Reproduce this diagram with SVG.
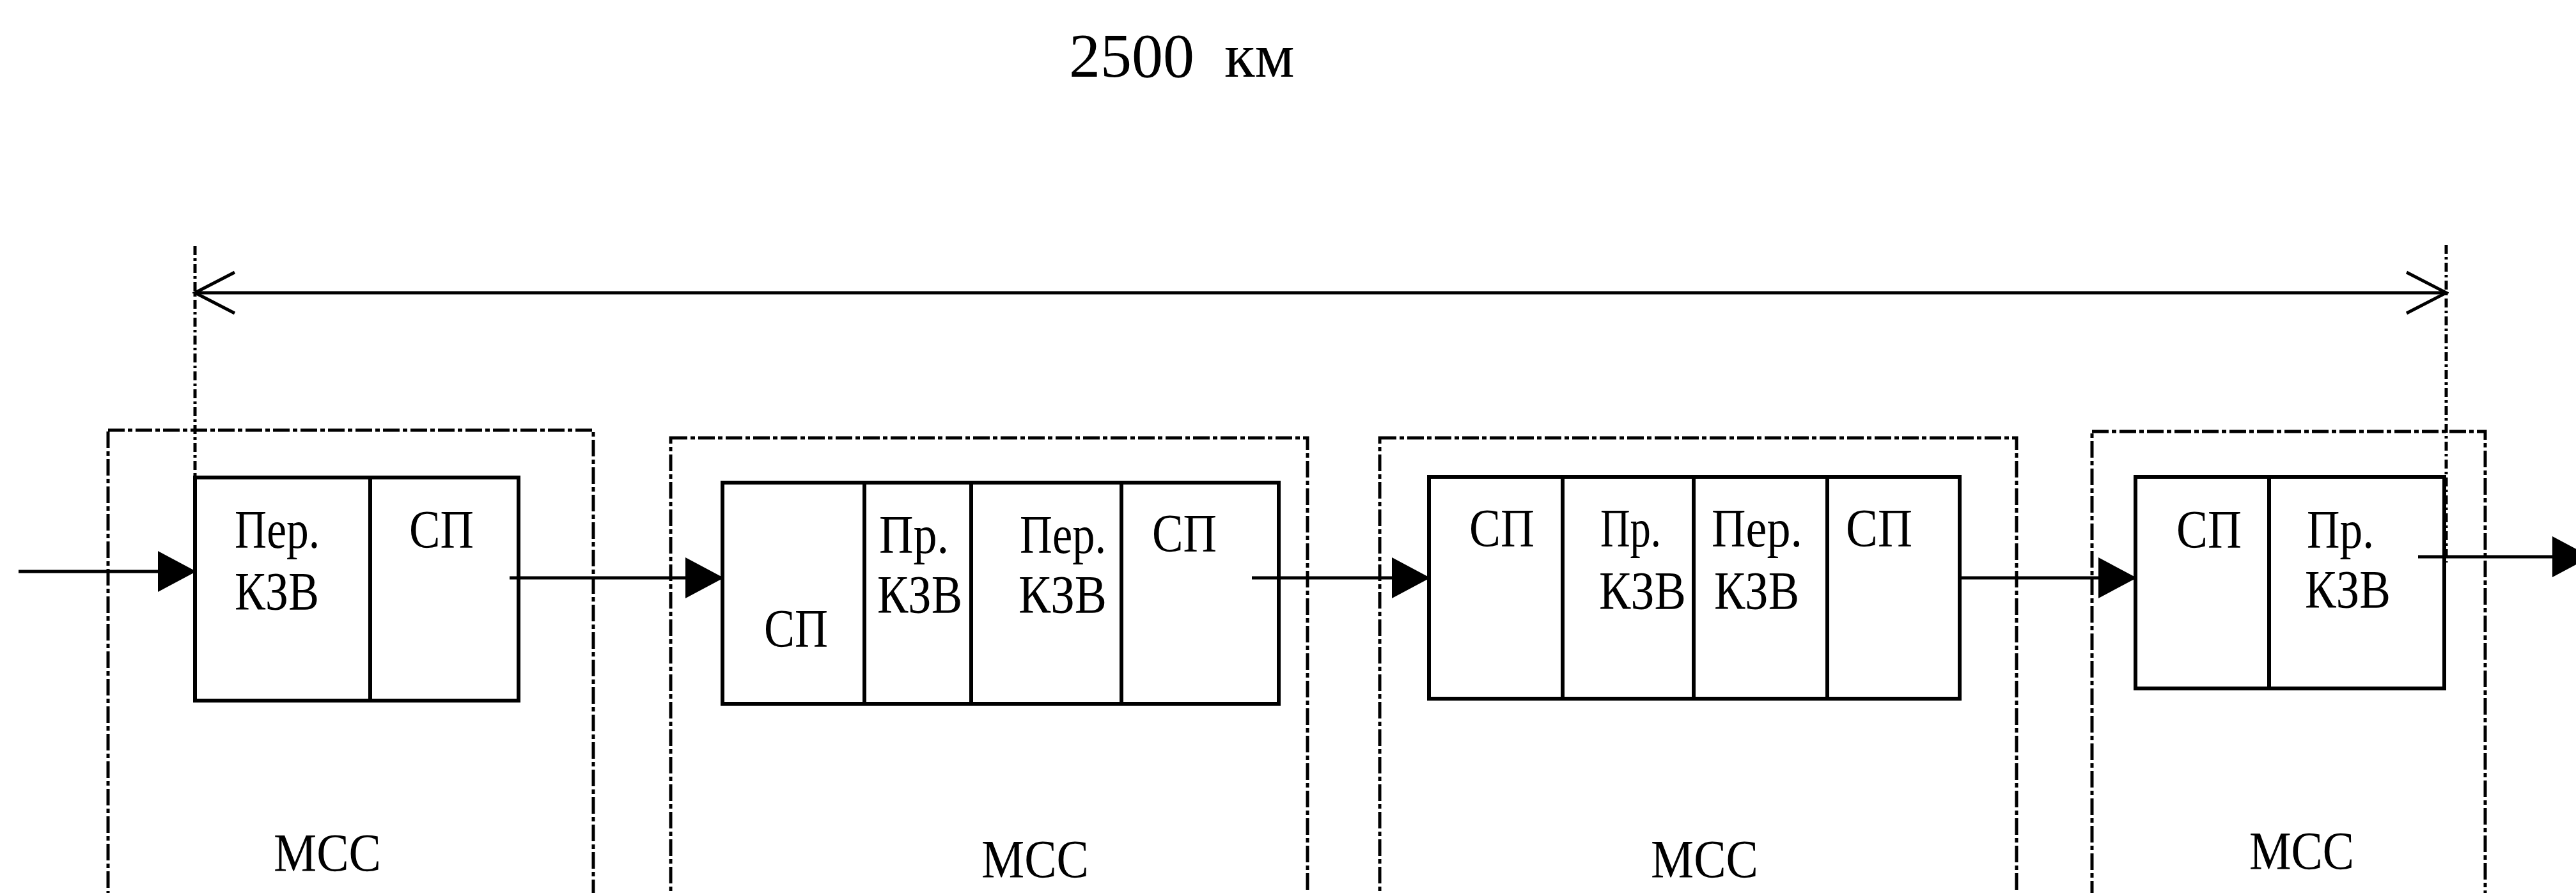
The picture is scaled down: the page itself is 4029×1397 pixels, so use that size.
<svg xmlns="http://www.w3.org/2000/svg" width="4029" height="1397" viewBox="0 0 4029 1397">
<style>
text{font-family:"Liberation Serif","Times New Roman",serif;fill:#000;font-size:84px}
.title{font-size:98px}
.outer{fill:none;stroke:#000;stroke-width:5;stroke-dasharray:26 5 7 5}
.inner{fill:#fff;stroke:#000;stroke-width:6}
.div{stroke:#000;stroke-width:6}
.ext{stroke:#000;stroke-width:5;stroke-dasharray:14 5 4 5}
.dim{stroke:#000;stroke-width:5;fill:none}
.con{stroke:#000;stroke-width:5;fill:none}
</style>
<defs>
<marker id="fa" viewBox="0 0 60 64" markerWidth="60" markerHeight="64" refX="58" refY="32" markerUnits="userSpaceOnUse" orient="auto">
<path d="M0,0 L60,32 L0,64 Z" fill="#000"/>
</marker>
<marker id="oa" viewBox="-4 -4 70 72" markerWidth="70" markerHeight="72" refX="62" refY="32" markerUnits="userSpaceOnUse" orient="auto-start-reverse">
<path d="M0,0 L62,32 L0,64" fill="none" stroke="#000" stroke-width="5"/>
</marker>
</defs>
<rect width="4029" height="1397" fill="#fff"/>

<g id="title">
<text class="title" x="1672" y="120">2500 <tspan x="1915">км</tspan></text>
</g>

<g id="dimension">
<line class="ext" x1="305" y1="385" x2="305" y2="747"/>
<line class="ext" x1="3826" y1="383" x2="3826" y2="880"/>
<line class="dim" x1="305" y1="458" x2="3826" y2="458" marker-start="url(#oa)" marker-end="url(#oa)"/>
</g>

<g id="mss1">
<rect class="outer" x="169" y="673" width="759" height="760"/>
<rect class="inner" x="305" y="747" width="506" height="349"/>
<line class="div" x1="579" y1="747" x2="579" y2="1096"/>
<text x="367" y="857" textLength="133" lengthAdjust="spacingAndGlyphs">Пер.</text>
<text x="367" y="954" textLength="132" lengthAdjust="spacingAndGlyphs">КЗВ</text>
<text x="640" y="857" textLength="101" lengthAdjust="spacingAndGlyphs">СП</text>
<text x="428" y="1363" textLength="168" lengthAdjust="spacingAndGlyphs">МСС</text>
</g>

<g id="mss2">
<rect class="outer" x="1049" y="685" width="996" height="750"/>
<rect class="inner" x="1130" y="755" width="870" height="346"/>
<line class="div" x1="1352" y1="755" x2="1352" y2="1101"/>
<line class="div" x1="1519" y1="755" x2="1519" y2="1101"/>
<line class="div" x1="1754" y1="755" x2="1754" y2="1101"/>
<text x="1195" y="1012" textLength="100" lengthAdjust="spacingAndGlyphs">СП</text>
<text x="1375" y="865" textLength="109" lengthAdjust="spacingAndGlyphs">Пр.</text>
<text x="1372" y="959" textLength="133" lengthAdjust="spacingAndGlyphs">КЗВ</text>
<text x="1595" y="865" textLength="135" lengthAdjust="spacingAndGlyphs">Пер.</text>
<text x="1593" y="959" textLength="138" lengthAdjust="spacingAndGlyphs">КЗВ</text>
<text x="1802" y="863" textLength="101" lengthAdjust="spacingAndGlyphs">СП</text>
<text x="1535" y="1373" textLength="168" lengthAdjust="spacingAndGlyphs">МСС</text>
</g>

<g id="mss3">
<rect class="outer" x="2158" y="685" width="996" height="750"/>
<rect class="inner" x="2235" y="746" width="830" height="347"/>
<line class="div" x1="2444" y1="746" x2="2444" y2="1093"/>
<line class="div" x1="2649" y1="746" x2="2649" y2="1093"/>
<line class="div" x1="2858" y1="746" x2="2858" y2="1093"/>
<text x="2298" y="855" textLength="102" lengthAdjust="spacingAndGlyphs">СП</text>
<text x="2503" y="855" textLength="95" lengthAdjust="spacingAndGlyphs">Пр.</text>
<text x="2501" y="953" textLength="136" lengthAdjust="spacingAndGlyphs">КЗВ</text>
<text x="2677" y="855" textLength="142" lengthAdjust="spacingAndGlyphs">Пер.</text>
<text x="2681" y="953" textLength="133" lengthAdjust="spacingAndGlyphs">КЗВ</text>
<text x="2887" y="855" textLength="104" lengthAdjust="spacingAndGlyphs">СП</text>
<text x="2582" y="1373" textLength="168" lengthAdjust="spacingAndGlyphs">МСС</text>
</g>

<g id="mss4">
<rect class="outer" x="3272" y="675" width="615" height="760"/>
<rect class="inner" x="3340" y="746" width="483" height="331"/>
<line class="div" x1="3549" y1="746" x2="3549" y2="1077"/>
<text x="3404" y="857" textLength="102" lengthAdjust="spacingAndGlyphs">СП</text>
<text x="3608" y="857" textLength="105" lengthAdjust="spacingAndGlyphs">Пр.</text>
<text x="3605" y="951" textLength="134" lengthAdjust="spacingAndGlyphs">КЗВ</text>
<text x="3518" y="1360" textLength="164" lengthAdjust="spacingAndGlyphs">МСС</text>
</g>

<g id="connectors">
<line class="con" x1="29" y1="894" x2="305" y2="894" stroke-width="7" marker-end="url(#fa)"/>
<line class="con" x1="797" y1="904" x2="1130" y2="904" marker-end="url(#fa)"/>
<line class="con" x1="1958" y1="904" x2="2235" y2="904" marker-end="url(#fa)"/>
<line class="con" x1="3065" y1="904" x2="3340" y2="904" marker-end="url(#fa)"/>
<line class="con" x1="3782" y1="871" x2="4050" y2="871" marker-end="url(#fa)"/>
</g>
</svg>
